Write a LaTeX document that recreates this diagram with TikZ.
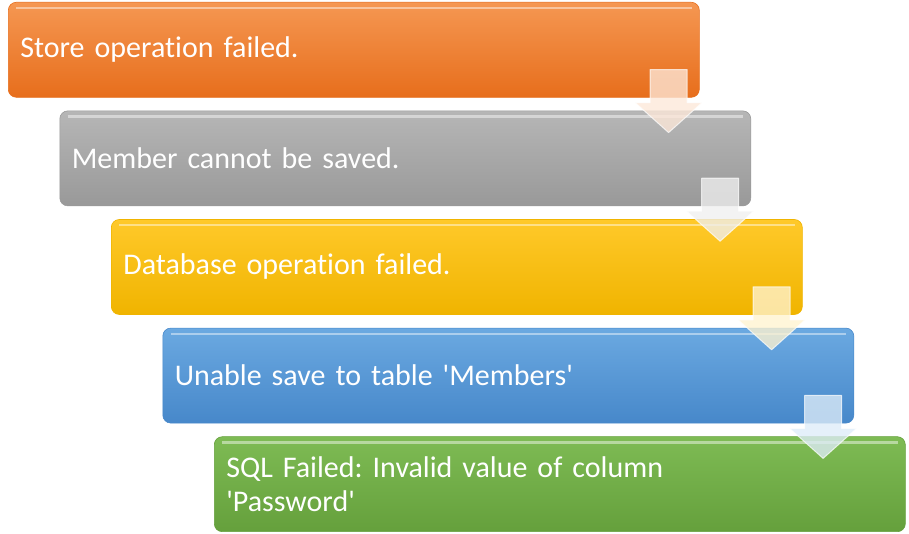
\documentclass[tikz,border=0pt]{standalone}
\usepackage{fontspec}
\setmainfont{Carlito}[Ligatures=NoCommon]

\definecolor{orangetop}{HTML}{F59752}
\definecolor{orangebot}{HTML}{E76E1C}
\definecolor{graytop}{HTML}{B6B6B6}
\definecolor{graybot}{HTML}{999999}
\definecolor{goldtop}{HTML}{FFC92A}
\definecolor{goldbot}{HTML}{F0B400}
\definecolor{bluetop}{HTML}{6BA9E1}
\definecolor{bluebot}{HTML}{4788CA}
\definecolor{greentop}{HTML}{7EBB54}
\definecolor{greenbot}{HTML}{65A03C}

\begin{document}
\begin{tikzpicture}[x=1pt,y=1pt,
    box/.style={rectangle, rounded corners=8pt, anchor=north west,
        top color=#1top, bottom color=#1bot, draw=#1bot, line width=0.6pt,
        minimum width=691pt, minimum height=95pt, text width=667pt,
        inner xsep=11pt, align=left, text=white,
        font=\fontsize{30}{34.5}\selectfont\frenchspacing},
    flow/.style={fill=#1top!22!white, fill opacity=0.78,
        draw=white, draw opacity=0.7, line width=1pt, line join=round}]
\useasboundingbox (0,0) rectangle (909,534);
\node[box=orange] (store) at (8,532) {Store operation failed.};
\node[box=gray] (member) at ([xshift=51.5pt,yshift=-13pt]store.south west) {Member cannot be saved.};
\node[box=gold] (database) at ([xshift=51.5pt,yshift=-13pt]member.south west) {Database operation failed.};
\node[box=blue] (table) at ([xshift=51.5pt,yshift=-13pt]database.south west) {Unable save to table \textquotesingle Members\textquotesingle};
\node[box=green] (sql) at ([xshift=51.5pt,yshift=-13pt]table.south west) {SQL Failed: Invalid value of column\\\textquotesingle Password\textquotesingle};
% top highlights
\foreach \b in {store,member,database,table,sql}
  \draw[white, opacity=0.45, line width=2.5pt]
    ([xshift=8pt,yshift=-6pt]\b.north west) -- ([xshift=-8pt,yshift=-6pt]\b.north east);
% arrows between the boxes
\foreach \b/\c in {store/orange,member/gray,database/gold,table/blue}
  \draw[flow=\c, shift={(\b.south east)}]
    (-49.5,28) -- (-12.5,28) -- (-12.5,-5) -- (2.5,-5) -- (-31,-35)
    -- (-64.5,-5) -- (-49.5,-5) -- cycle;
\end{tikzpicture}
\end{document}
